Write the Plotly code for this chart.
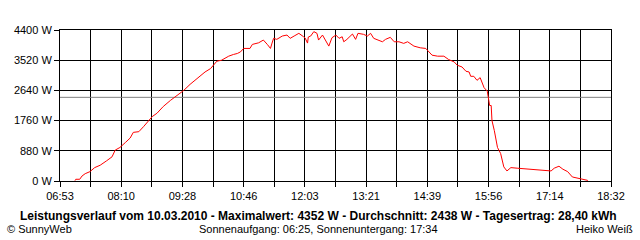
import plotly.graph_objects as go

# ---- data ----
times = ["07:12","07:13","07:18","07:21","07:25","07:31","07:37","07:44","07:52","07:59",
         "08:03","08:09","08:16","08:22","08:26","08:33","08:39","08:45","08:50","08:56",
         "09:04","09:13","09:21","09:30","09:38","09:50","09:57","10:04","10:08","10:12",
         "10:18","10:27","10:33","10:38","10:42","10:46","10:54","10:57","11:05","11:11",
         "11:16","11:20","11:22","11:24","11:28","11:35","11:41","11:45","11:50","11:56",
         "12:02","12:04","12:07","12:08","12:11","12:15","12:19","12:21","12:26","12:30",
         "12:34","12:38","12:43","12:47","12:51","12:53","12:57","13:04","13:08","13:11",
         "13:18","13:23","13:27","13:31","13:37","13:42","13:46","13:52","13:57","14:03",
         "14:09","14:14","14:22","14:30","14:37","14:40","14:45","14:52","15:00","15:06",
         "15:13","15:17","15:23","15:28","15:32","15:34","15:38","15:42","15:46","15:51",
         "15:55","15:57","15:58","16:00","16:01","16:04","16:08","16:12","16:16","16:20",
         "16:25","16:33","16:50","17:03","17:16","17:20","17:26","17:31","17:37","17:43",
         "17:50","17:58","18:02","18:03"]
power = [10, 50, 50, 147, 214, 273, 390, 460, 587, 704,
         900, 977, 1123, 1252, 1417, 1437, 1584, 1760, 1877, 1974,
         2171, 2347, 2493, 2640, 2816, 3051, 3177, 3276, 3373, 3491,
         3520, 3637, 3687, 3716, 3763, 3863, 3863, 3980, 4027, 4107,
         3980, 3863, 4019, 4157, 4127, 4224, 4253, 4157, 4224, 4303,
         4203, 4165, 4019, 4195, 4224, 4352, 4303, 4107, 4253, 4107,
         3931, 4174, 4253, 4157, 4203, 4057, 4127, 4283, 4127, 4303,
         4274, 4224, 4303, 4157, 4107, 4057, 4127, 4186, 4057, 4057,
         4010, 4057, 3931, 3881, 3863, 3793, 3667, 3637, 3637, 3540,
         3470, 3373, 3323, 3197, 3177, 3051, 3051, 2933, 3012, 2719,
         2619, 2347, 2200, 2200, 1760, 1467, 977, 801, 411, 293,
         390, 373, 343, 314, 293, 373, 431, 343, 273, 117,
         79, 50, 20, 0]

x_tick_labels = ["06:53","08:10","09:28","10:46","12:03","13:21","14:39","15:56","17:14","18:32"]
y_ticks = [0, 880, 1760, 2640, 3520, 4400]
average_w = 2438

title_text = "Leistungsverlauf vom 10.03.2010 - Maximalwert: 4352 W - Durchschnitt: 2438 W - Tagesertrag: 28,40 kWh"
sun_text = "Sonnenaufgang: 06:25, Sonnenuntergang: 17:34"
left_text = "© SunnyWeb"
right_text = "Heiko Weiß"


def to_min(s):
    h, m = s.split(":")
    return int(h) * 60 + int(m)

xs = [to_min(t) for t in times]
x0 = to_min(x_tick_labels[0])
x1 = to_min(x_tick_labels[-1])
n_int = 2 * (len(x_tick_labels) - 1)
grid_x = [x0 + (x1 - x0) * k / n_int for k in range(n_int + 1)]
grid_text = [x_tick_labels[k // 2] if k % 2 == 0 else "" for k in range(n_int + 1)]

FONT = "Liberation Sans"

fig = go.Figure()
fig.add_trace(go.Scatter(x=[x0, x1], y=[average_w, average_w], mode="lines",
                         line=dict(color="#808080", width=1), hoverinfo="skip"))
fig.add_trace(go.Scatter(x=xs, y=power, mode="lines",
                         line=dict(color="#ff0000", width=1), hoverinfo="skip"))

fig.update_layout(
    width=640, height=240,
    margin=dict(l=60, r=29, t=30, b=59, pad=0),
    paper_bgcolor="white", plot_bgcolor="white",
    showlegend=False,
    font=dict(family=FONT, size=11, color="black"),
)
fig.update_xaxes(range=[x0, x1], tickmode="array", tickvals=grid_x, ticktext=grid_text,
                 showgrid=True, gridcolor="black", gridwidth=1,
                 ticks="outside", ticklen=5, tickcolor="black", tickwidth=1,
                 showline=True, linecolor="black", linewidth=1, mirror=True,
                 zeroline=False, tickfont=dict(size=11))
fig.update_yaxes(range=[0, 4400], tickmode="array", tickvals=y_ticks,
                 ticktext=[f"{v} W" for v in y_ticks],
                 showgrid=True, gridcolor="black", gridwidth=1,
                 ticks="outside", ticklen=5, tickcolor="black", tickwidth=1,
                 showline=True, linecolor="black", linewidth=1, mirror=True,
                 zeroline=False, tickfont=dict(size=11))

fig.add_annotation(text="<b>" + title_text + "</b>", xref="paper", yref="paper",
                   x=0.47, y=-0.235, xanchor="center", yanchor="middle",
                   showarrow=False, font=dict(size=12, family=FONT))
fig.add_annotation(text=left_text, xref="paper", yref="paper",
                   x=-0.1, y=-0.32, xanchor="left", yanchor="middle",
                   xshift=5 - 60 + 0.1 * 551, showarrow=False, font=dict(size=11))
fig.add_annotation(text=sun_text, xref="paper", yref="paper",
                   x=0.47, y=-0.32, xanchor="center", yanchor="middle",
                   showarrow=False, font=dict(size=11))
fig.add_annotation(text=right_text, xref="paper", yref="paper",
                   x=1.0, y=-0.32, xanchor="right", yanchor="middle",
                   xshift=24, showarrow=False, font=dict(size=11))

fig.write_html("out.html")
